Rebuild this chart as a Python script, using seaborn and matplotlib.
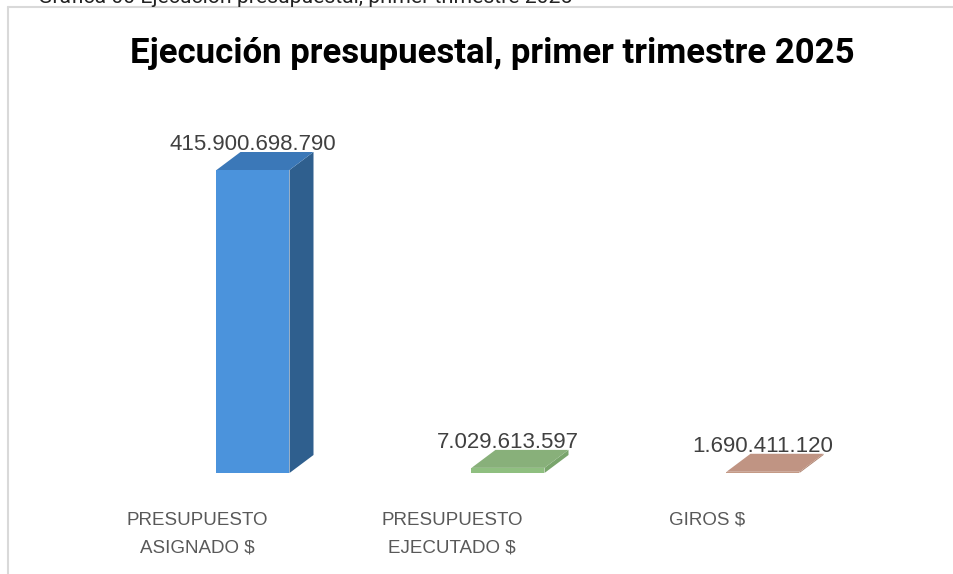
import matplotlib
matplotlib.use("Agg")
import matplotlib.pyplot as plt
import matplotlib.transforms as mtransforms
from matplotlib.patches import Polygon
import seaborn as sns
import pandas as pd

categories = ["PRESUPUESTO\nASIGNADO $", "PRESUPUESTO\nEJECUTADO $", "GIROS $"]
values = [415900698790, 7029613597, 1690411120]
value_labels = ["415.900.698.790", "7.029.613.597", "1.690.411.120"]
front_colors = ["#4B93DC", "#8FBF80", "#C49A86"]
top_colors = ["#3B78B8", "#88B07A", "#C09483"]
side_colors = ["#2F5F8E", "#79A56C", "#B08572"]
title = "Ejecución presupuestal, primer trimestre 2025"
caption = "Gráfica 00 Ejecución presupuestal, primer trimestre 2025"

sns.set_theme(style="white")
plt.rcParams['font.family'] = ['Liberation Sans', 'DejaVu Sans']

W, H = 954, 574
fig = plt.figure(figsize=(W / 100, H / 100), dpi=100)
fig.patch.set_facecolor("white")

# chart frame lines (left and top)
fig.add_artist(plt.Line2D([8 / W, 8 / W], [0, 1 - 7 / H], color="#D9D9D9", lw=1.5))
fig.add_artist(plt.Line2D([8 / W, 1], [1 - 7 / H, 1 - 7 / H], color="#D9D9D9", lw=1.5))
fig.text(38 / W, 1 - 3 / H, caption, fontsize=15.2, va="baseline", ha="left",
         color="#222222", family=["Roboto", "DejaVu Sans"])

spacing_px = 255
ax_left_px = 253 - spacing_px / 2
ax = fig.add_axes([ax_left_px / W, 101 / H, 3 * spacing_px / W, 373 / H])
px_per_val = 303 / values[0]
ymax = 373 / px_per_val

df = pd.DataFrame({"cat": categories, "val": values})
bw = 73 / spacing_px
sns.barplot(data=df, x="cat", y="val", hue="cat", palette=front_colors,
            width=bw, ax=ax, legend=False, saturation=1, edgecolor="none")
ax.set_xlim(-0.5, 2.5)
ax.set_ylim(0, ymax)

ddx = 24 / spacing_px
ddy = 18 / px_per_val
for i, v in enumerate(values):
    x0, x1 = i - bw / 2, i + bw / 2
    top = Polygon([(x0, v), (x1, v), (x1 + ddx, v + ddy), (x0 + ddx, v + ddy)],
                  closed=True, facecolor=top_colors[i], edgecolor="none", clip_on=False)
    side = Polygon([(x1, 0), (x1, v), (x1 + ddx, v + ddy), (x1 + ddx, ddy)],
                   closed=True, facecolor=side_colors[i], edgecolor="none", clip_on=False)
    ax.add_patch(side)
    ax.add_patch(top)
    ax.annotate(value_labels[i], (i, v + ddy), xytext=(0, 5.5), textcoords="offset points",
                ha="center", va="center", fontsize=16, color="#404040")

for s in ax.spines.values():
    s.set_visible(False)
ax.set_yticks([])
ax.set_xlabel("")
ax.set_ylabel("")
ax.set_xticks(range(len(categories)))
ax.set_xticklabels(categories, fontsize=13.5, color="#595959", linespacing=1.85)
ax.tick_params(axis="x", length=0, pad=28)
offset = mtransforms.ScaledTranslation(-56 / 100, 0, fig.dpi_scale_trans)
for lbl in ax.get_xticklabels():
    lbl.set_ha("center")
    lbl.set_transform(lbl.get_transform() + offset)

fig.text(492 / W, 1 - 53 / H, title, fontsize=25, fontweight="bold",
         family=["Roboto", "DejaVu Sans"], ha="center", va="center", color="#000000")

fig.savefig("out.png", dpi=100, facecolor="white")
